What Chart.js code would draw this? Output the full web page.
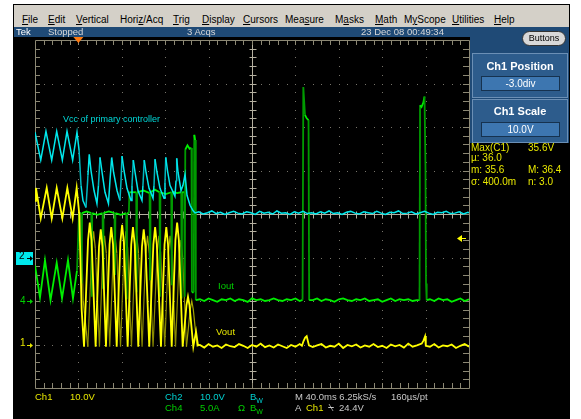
<!DOCTYPE html>
<html>
<head>
<meta charset="utf-8">
<script src="https://cdn.jsdelivr.net/npm/chart.js@4.4.1/dist/chart.umd.min.js"></script>
<style>
  body { margin: 0; width: 581px; height: 419px; background: #fff; position: relative; overflow: hidden; font-family: 'Liberation Sans', Arial, sans-serif; }
  .abs { position: absolute; white-space: nowrap; z-index: 2; }
  #frame { position: absolute; left: 13px; top: 4px; width: 557px; height: 415px; background: #000; }
  #menu { left: 14px; top: 5px; width: 555px; height: 22px; background: #d4d0c8; z-index: 1; }
  #menu span { position: absolute; top: 9px; font-size: 10px; line-height: 12px; color: #000; }
  #status { left: 14px; top: 27px; width: 555px; height: 10px; background: #1f4a76; z-index: 1; }
  #side { left: 470px; top: 27px; width: 99px; height: 116px; background: #1f4a76; z-index: 1; }
  .st { font-size: 9.5px; line-height: 11px; color: #d8d8d8; top: 26px; }
  #buttons { left: 522px; top: 31px; width: 42px; height: 13px; border-radius: 8px; background: #d8d8d8; border: 1px solid #333; font-size: 9px; line-height: 13px; text-align: center; color: #000; }
  .panel { left: 472px; width: 94px; background: #2d5c8c; border: 1px solid #6b8fb5; }
  .ptitle { left: 472px; width: 96px; text-align: center; font-size: 11px; font-weight: bold; color: #fff; line-height: 13px; }
  .pval { left: 481px; width: 77px; height: 13px; background: #3d76b0; border: 1px solid #16324f; font-size: 10px; line-height: 13px; text-align: center; color: #fff; }
  .meas { font-size: 10px; line-height: 12px; color: #e8e800; }
  .rd { font-size: 9.5px; line-height: 11px; }
  canvas { position: absolute; left: 0; top: 0; z-index: 1; }
</style>
</head>
<body>
<div id="frame"></div>
<div id="menu" class="abs">
  <span style="left:8px"><u>F</u>ile</span>
  <span style="left:34px"><u>E</u>dit</span>
  <span style="left:62px"><u>V</u>ertical</span>
  <span style="left:106px">Hori<u>z</u>/Acq</span>
  <span style="left:159px"><u>T</u>rig</span>
  <span style="left:188px"><u>D</u>isplay</span>
  <span style="left:229px"><u>C</u>ursors</span>
  <span style="left:271px">Mea<u>s</u>ure</span>
  <span style="left:321px">M<u>a</u>sks</span>
  <span style="left:361px"><u>M</u>ath</span>
  <span style="left:390px">M<u>y</u>Scope</span>
  <span style="left:438px"><u>U</u>tilities</span>
  <span style="left:480px"><u>H</u>elp</span>
</div>
<div id="status" class="abs"></div>
<div id="side" class="abs"></div>
<div class="abs st" style="left:16px;color:#fff">Tek</div>
<div class="abs st" style="left:48px">Stopped</div>
<div class="abs st" style="left:187px">3 Acqs</div>
<div class="abs st" style="left:361px">23 Dec 08 00:49:34</div>
<div id="buttons" class="abs">Buttons</div>

<div class="abs panel" style="top:53px;height:43px"></div>
<div class="abs ptitle" style="top:60px">Ch1 Position</div>
<div class="abs pval" style="top:76px">-3.0div</div>
<div class="abs panel" style="top:99px;height:42px"></div>
<div class="abs ptitle" style="top:105px">Ch1 Scale</div>
<div class="abs pval" style="top:122px">10.0V</div>

<div class="abs meas" style="left:471px;top:142px">Max(C1)</div>
<div class="abs meas" style="left:528px;top:142px">35.6V</div>
<div class="abs meas" style="left:471px;top:152px">µ: 36.0</div>
<div class="abs meas" style="left:471px;top:164px">m: 35.6</div>
<div class="abs meas" style="left:528px;top:164px">M: 36.4</div>
<div class="abs meas" style="left:471px;top:176px">σ: 400.0m</div>
<div class="abs meas" style="left:528px;top:176px">n: 3.0</div>

<div class="abs" style="left:63px;top:114px;font-size:9px;line-height:11px;color:#00d8d8">Vcc of primary controller</div>
<div class="abs" style="left:218px;top:280px;font-size:9.5px;line-height:11px;color:#00d000">Iout</div>
<div class="abs" style="left:216px;top:326px;font-size:9.5px;line-height:11px;color:#e6e600">Vout</div>

<div class="abs" style="left:19px;top:250px;font-size:10px;line-height:12px;color:#000">2</div>
<div class="abs" style="left:20px;top:295px;font-size:10px;line-height:12px;color:#00d000">4</div>
<div class="abs" style="left:20px;top:337px;font-size:10px;line-height:12px;color:#e6e600">1</div>

<div class="abs rd" style="left:35px;top:391px;color:#e6e600">Ch1</div>
<div class="abs rd" style="left:70px;top:391px;color:#e6e600">10.0V</div>
<div class="abs rd" style="left:165px;top:391px;color:#00d0d0">Ch2</div>
<div class="abs rd" style="left:200px;top:391px;color:#00d0d0">10.0V</div>
<div class="abs rd" style="left:250px;top:391px;color:#00d0d0">B<sub style="font-size:7px">W</sub></div>
<div class="abs rd" style="left:295px;top:391px;color:#c8c8c8">M 40.0ms 6.25kS/s</div>
<div class="abs rd" style="left:391px;top:391px;color:#c8c8c8">160µs/pt</div>
<div class="abs rd" style="left:165px;top:402px;color:#00d000">Ch4</div>
<div class="abs rd" style="left:200px;top:402px;color:#00d000">5.0A</div>
<div class="abs rd" style="left:238px;top:402px;color:#00d000">Ω</div>
<div class="abs rd" style="left:250px;top:402px;color:#00d000">B<sub style="font-size:7px">W</sub></div>
<div class="abs rd" style="left:295px;top:402px;color:#c8c8c8">A</div>
<div class="abs rd" style="left:306px;top:402px;color:#e6e600">Ch1</div>
<div class="abs rd" style="left:328px;top:402px;color:#c8c8c8">⍀</div>
<div class="abs rd" style="left:339px;top:402px;color:#c8c8c8">24.4V</div>

<canvas id="scope" width="581" height="419"></canvas>

<script>
// Horizontal: 40 ms/div, trigger 1 div from the left
const timeDivs = [-40, 0, 40, 80, 120, 160, 200, 240, 280, 320, 360];
const levelDivs = [-4, -3, -2, -1, 0, 1, 2, 3, 4];

// Channel settings (scale per div, position in div)
const ch1Scale = 10, ch1Pos = -3;   // Vout, volts
const ch2Scale = 10, ch2Pos = -1;   // Vcc, volts
const ch4Scale = 5,  ch4Pos = -2;   // Iout, amps
const trigLevel = 24.4;

// Ch2 - Vcc of primary controller (V)
const ch2Time = [-40, -34.7, -29.9, -24.6, -20, -14.8, -10.5, -5.3, -1.3, 0.6,
  2.4, 4.2, 7.0, 8.8, 10.0, 11.6, 14.4, 17.1, 18.5, 19.9,
  21.8, 24.5, 27.7, 29.1, 30.7, 32.4, 35.6, 38.3, 39.3, 40.2,
  42.0, 44.8, 48.5, 49.4, 50.6, 52.2, 54.9, 58.6, 59.5, 60.7,
  62.3, 65.1, 68.8, 69.7, 70.6, 72.4, 75.2, 78.9, 79.8, 80.5,
  82.1, 84.4, 89.0, 90.0, 90.6, 91.8, 94.6, 96.4, 98.3, 100.1,
  102.9, 105.6, 107.5,
  111, 115, 119, 123, 127, 131, 135, 139, 143, 147,
  151, 155, 159, 163, 167, 171, 175, 179, 183, 187,
  191, 195, 199, 203, 207, 211, 215, 219, 223, 227,
  231, 235, 239, 243, 247, 251, 255, 259, 263, 267,
  271, 275, 279, 283, 287, 291, 295, 299, 303, 307,
  311, 315, 319, 323, 327, 331, 335, 339, 343, 347,
  351, 355, 359, 360];
const ch2Volts = [28.8, 22.4, 29.0, 22.4, 29.0, 22.4, 29.0, 22.4, 28.8, 24.7,
  16.6, 13.1, 11.5, 18.9, 23.7, 20.0, 15.4, 12.4, 16.6, 23.0,
  19.6, 15.0, 12.4, 17.7, 23.0, 19.6, 15.4, 13.1, 17.7, 23.3,
  20.0, 15.9, 13.1, 16.6, 22.4, 19.6, 15.4, 13.1, 16.6, 22.4,
  19.6, 15.9, 13.6, 16.6, 22.6, 19.6, 15.9, 13.6, 17.3, 23.0,
  20.0, 16.6, 14.1, 17.7, 22.8, 19.6, 15.4, 16.6, 19.1, 14.3,
  12.0, 10.8, 10.25,
  10.5, 10.0, 10.3, 10.7, 10.1, 10.4, 9.9, 10.3, 10.6, 10.2,
  10.0, 10.5, 10.3, 9.9, 10.6, 10.2, 10.4, 10.0, 10.7, 10.2,
  10.3, 9.9, 10.5, 10.2, 10.6, 10.1, 10.3, 10.0, 10.5, 10.2,
  10.7, 10.1, 10.3, 9.9, 10.4, 10.6, 10.2, 10.0, 10.5, 10.3,
  10.1, 10.6, 10.2, 9.9, 10.4, 10.3, 10.7, 10.1, 10.2, 10.5,
  10.0, 10.3, 10.6, 10.2, 9.9, 10.4, 10.3, 10.6, 10.1, 10.2,
  10.5, 10.0, 10.4, 10.3];

// Ch1 - Vout (V)
const ch1Time = [-40, -39.1, -34.7, -29.2, -24.6, -20, -14.8, -10.2, -5.3, -1.6,
  0.8, 3.0, 5.2,
  8.9, 10.5, 12.1, 15.9, 19.0, 20.6, 22.2, 25.4,
  28.7, 30.3, 31.9, 35.3, 38.7, 40.3, 41.9, 45.4,
  48.7, 50.3, 51.9, 55.2, 58.6, 60.2, 61.8, 65.3,
  69.1, 70.7, 72.3, 76.1, 79.4, 81.0, 82.6, 86.0,
  89.4, 91.0, 92.6, 96.1, 99.6, 101.0, 102.4, 105.9,
  108.4, 110.2,
  112, 116, 120, 124, 128, 132, 136, 140, 144, 148, 152, 156,
  160, 164, 168, 172, 176, 180, 184, 188, 192, 196, 200, 204,
  206.0, 207.5, 209.0, 210.4, 212.5,
  216, 220, 224, 228, 232, 236, 240, 244, 248, 252, 256, 260, 264,
  268, 272, 276, 280, 284, 288, 292, 296, 300, 304, 308, 312,
  316.4, 318.0, 319.5, 320.2,
  324, 328, 332, 336, 340, 344, 348, 352, 356, 360];
const ch1Volts = [33, 36, 29, 36, 29, 36, 29, 36, 29, 36,
  30, 8, -0.5,
  24, 28, 24, -0.5, 22.5, 26.5, 22.5, -0.5,
  23, 27, 23, -0.5, 23.5, 27.5, 23.5, -0.5,
  23, 27, 23, -0.5, 22.5, 26.5, 22.5, -0.5,
  23, 27, 23, -0.5, 23, 27, 23, -0.5,
  24, 28, 24, -0.5, 9, 11, 9, -0.5,
  3, -0.2,
  -0.1, -0.7, 0.1, -0.5, -0.2, -0.8, 0.0, -0.4, -0.6, 0.1, -0.3, -0.8,
  -0.1, -0.5, 0.2, -0.6, -0.2, -0.7, 0.0, -0.4, -0.8, -0.1, -0.5, 0.1,
  -0.3, 0.8, 1.6, 1.9, -0.2,
  -0.6, -0.2, 0.1, -0.7, -0.3, -0.5, 0.2, -0.8, -0.1, -0.4, 0.0, -0.7, -0.2,
  -0.5, 0.1, -0.6, -0.3, -0.8, 0.0, -0.4, -0.1, -0.7, 0.2, -0.5, -0.2,
  0.2, 0.9, 1.9, -0.3,
  -0.5, 0.1, -0.7, -0.2, -0.4, 0.0, -0.8, -0.3, 0.1, -0.5];

// Ch1 - earlier acquisitions (dim persistence)
const ch1GhostTime = [2.0, 4.5, 8.7, 12.4, 14.0, 15.6, 19.4, 22.5, 24.1, 25.7,
  28.9, 32.2, 33.8, 35.4, 38.8, 42.2, 43.8, 45.4, 48.9, 52.2,
  53.8, 55.4, 58.7, 62.1, 63.7, 65.3, 68.8, 72.6, 74.2, 75.8,
  79.6, 82.9, 84.5, 86.1, 89.5, 92.9, 94.5, 96.1, 99.6, 103.1,
  104.5, 105.9, 109.4];
const ch1GhostVolts = [30, 10, -0.5, 22, 26, 22, -0.5, 21, 25, 21,
  -0.5, 21, 25, 21, -0.5, 22, 26, 22, -0.5, 21,
  25, 21, -0.5, 21, 25, 21, -0.5, 21, 25, 21,
  -0.5, 21, 25, 21, -0.5, 20, 24, 20, -0.5, 8,
  10, 8, -0.5];

// Ch4 - Iout (A)
const ch4Time = [-40, -35.4, -30.8, -25.7, -20, -15.1, -9.6, -5.0, -1.3, 0.6,
  2.6, 3.0, 3.4, 7.5, 11.9, 12.3, 12.7, 17.5, 22.3, 22.7,
  23.1, 28, 33.3, 33.7, 34.1, 39, 44.1, 44.5, 44.9, 46.5,
  47.0, 53.3, 53.7, 54.1, 60, 65.6, 66.0, 66.4, 70.5, 74.8,
  75.2, 75.6, 80.5, 85.6, 86.0, 86.4, 90.8, 94.8, 95.2, 95.6,
  97.6, 98.0, 98.5, 100.5, 102.5, 104.2, 104.6, 106.3, 106.8, 107.6,
  108.2,
  112, 116, 120, 124, 128, 132, 136, 140, 144, 148, 152, 156,
  160, 164, 168, 172, 176, 180, 184, 188, 192, 196, 200, 204,
  206.6, 207.3, 208.8, 210.4, 212.1, 212.7,
  216, 220, 224, 228, 232, 236, 240, 244, 248, 252, 256, 260, 264,
  268, 272, 276, 280, 284, 288, 292, 296, 300, 304, 308, 312,
  314.4, 314.9, 316.2, 317.9, 319.0, 319.9, 320.4, 321.0,
  324, 328, 332, 336, 340, 344, 348, 352, 356, 360];
const ch4Amps = [4.1, 0.4, 4.7, 0.1, 4.4, 0.3, 4.7, 0.3, 3.5, 10.1,
  10.1, 2.0, 10.1, 10.3, 10.1, 0.5, 10.1, 9.9, 10.1, 1.5,
  10.1, 10.3, 10.1, 3.0, 10.1, 9.9, 10.1, 0.2, 10.1, 10.1,
  12.5, 12.5, 1.0, 12.5, 12.7, 12.4, 2.5, 12.5, 12.8, 12.5,
  0.5, 12.5, 12.3, 12.5, 1.8, 12.6, 12.4, 12.5, 0.3, 12.5,
  12.5, 0.5, 17.4, 17.9, 17.5, 17.6, 1.0, 1.0, 19.1, 18.5,
  0.1,
  0.2, 0.0, 0.3, 0.1, -0.1, 0.2, 0.1, 0.3, 0.0, 0.2, 0.1, -0.1,
  0.3, 0.1, 0.2, 0.0, 0.1, 0.3, 0.1, 0.0, 0.2, 0.1, 0.3, 0.0,
  0.13, 24.6, 21.4, 21.0, 20.8, 0.1,
  0.1, 0.3, 0.0, 0.2, 0.1, -0.1, 0.2, 0.3, 0.1, 0.0, 0.2, 0.1, 0.3,
  0.0, 0.1, 0.2, -0.1, 0.1, 0.3, 0.0, 0.2, 0.1, 0.2, 0.0, 0.1,
  0.1, 22.5, 22.3, 22.8, 23.5, 15.3, 2.0, 0.1,
  0.2, 0.0, 0.3, 0.1, 0.2, -0.1, 0.1, 0.3, 0.0, 0.2];

// Colours
const colors = {
  ch1: { bright: '#ffff00', dim: '#ffff00' },
  ch1Ghost: { bright: '#a4a400', dim: '#8a8a00' },
  ch2: { bright: '#00e8ec', dim: '#00b8c0' },
  ch4: { bright: '#00ee00', dim: '#009a00' },
  grid: '#8c8874',
  gridDot: '#77746a',
  center: '#b4b0a0'
};

function toDivs(times, values, scale, pos) {
  return times.map((t, i) => ({ x: t, y: values[i] / scale + pos }));
}

// near-vertical segments (fast edges) show dimmer, like the scope's intensity grading
function edgeColor(c) {
  return function(ctx) {
    const dx = Math.abs(ctx.p1.x - ctx.p0.x);
    const dy = Math.abs(ctx.p1.y - ctx.p0.y);
    return dy > 10 * dx + 8 ? c.dim : c.bright;
  };
}

// Tek style graticule
const graticule = {
  id: 'graticule',
  beforeDatasetsDraw(chart) {
    const { ctx, chartArea: a, scales: { x, y } } = chart;
    const minorT = (timeDivs[1] - timeDivs[0]) / 5;
    const centerT = timeDivs[5];
    ctx.save();

    // dotted division lines
    ctx.fillStyle = colors.gridDot;
    timeDivs.slice(1, -1).forEach(t => {
      if (t === centerT) return;
      const px = Math.round(x.getPixelForValue(t));
      for (let k = 0; k <= 40; k++) {
        ctx.fillRect(px, Math.round(y.getPixelForValue(-4 + k * 0.2)), 1, 1);
      }
    });
    levelDivs.slice(1, -1).forEach(v => {
      if (v === 0) return;
      const py = Math.round(y.getPixelForValue(v));
      for (let k = 0; k <= 50; k++) {
        ctx.fillRect(Math.round(x.getPixelForValue(timeDivs[0] + k * minorT)), py, 1, 1);
      }
    });

    // centre cross with minor ticks
    ctx.strokeStyle = colors.center;
    ctx.lineWidth = 1;
    const cx = Math.round(x.getPixelForValue(centerT)) + 0.5;
    const cy = Math.round(y.getPixelForValue(0)) + 0.5;
    ctx.beginPath();
    ctx.moveTo(cx, a.top); ctx.lineTo(cx, a.bottom);
    ctx.moveTo(a.left, cy); ctx.lineTo(a.right, cy);
    for (let k = 0; k <= 40; k++) {
      const py = Math.round(y.getPixelForValue(-4 + k * 0.2)) + 0.5;
      ctx.moveTo(cx - 3, py); ctx.lineTo(cx + 4, py);
    }
    for (let k = 0; k <= 50; k++) {
      const px = Math.round(x.getPixelForValue(timeDivs[0] + k * minorT)) + 0.5;
      ctx.moveTo(px, cy - 3); ctx.lineTo(px, cy + 4);
    }
    ctx.stroke();

    // border with inward ticks
    ctx.strokeStyle = colors.grid;
    ctx.beginPath();
    ctx.rect(Math.round(a.left) + 0.5, Math.round(a.top) + 0.5, Math.round(a.right - a.left), Math.round(a.bottom - a.top));
    for (let k = 1; k < 50; k++) {
      const px = Math.round(x.getPixelForValue(timeDivs[0] + k * minorT)) + 0.5;
      ctx.moveTo(px, a.top); ctx.lineTo(px, a.top + 5);
      ctx.moveTo(px, a.bottom); ctx.lineTo(px, a.bottom - 5);
    }
    for (let k = 1; k < 40; k++) {
      const py = Math.round(y.getPixelForValue(-4 + k * 0.2)) + 0.5;
      ctx.moveTo(a.left, py); ctx.lineTo(a.left + 5, py);
      ctx.moveTo(a.right, py); ctx.lineTo(a.right - 6, py);
    }
    ctx.stroke();
    ctx.restore();
  },
  afterDraw(chart) {
    const { ctx, chartArea: a, scales: { x, y } } = chart;
    ctx.save();
    // trigger position marker
    const tx = x.getPixelForValue(0);
    ctx.fillStyle = '#ff7a10';
    ctx.beginPath();
    ctx.moveTo(tx - 5, a.top - 3); ctx.lineTo(tx + 5, a.top - 3); ctx.lineTo(tx, a.top + 3);
    ctx.closePath(); ctx.fill();

    // trigger level marker (right edge)
    const ty = Math.round(y.getPixelForValue(trigLevel / ch1Scale + ch1Pos)) + 0.5;
    ctx.fillStyle = colors.ch1.bright;
    ctx.strokeStyle = colors.ch1.bright;
    ctx.beginPath();
    ctx.moveTo(a.right - 12, ty); ctx.lineTo(a.right - 7, ty - 3.5); ctx.lineTo(a.right - 7, ty + 3.5);
    ctx.closePath(); ctx.fill();
    ctx.beginPath(); ctx.moveTo(a.right - 8, ty); ctx.lineTo(a.right - 3, ty); ctx.stroke();

    // channel ground markers
    const markers = [
      { pos: ch2Pos, c: colors.ch2.bright, box: true },
      { pos: ch4Pos, c: '#00d000', box: false },
      { pos: ch1Pos, c: '#e6e600', box: false }
    ];
    markers.forEach(m => {
      const my = Math.round(y.getPixelForValue(m.pos)) + 0.5;
      if (m.box) {
        ctx.fillStyle = m.c;
        ctx.fillRect(16, my - 6.5, 17, 13);
      }
      const ac = m.box ? '#000' : m.c;
      ctx.strokeStyle = ac; ctx.fillStyle = ac;
      ctx.beginPath(); ctx.moveTo(27, my); ctx.lineTo(31, my); ctx.stroke();
      ctx.beginPath(); ctx.moveTo(33, my); ctx.lineTo(30, my - 2.5); ctx.lineTo(30, my + 2.5); ctx.closePath(); ctx.fill();
    });
    ctx.restore();
  }
};

function trace(label, data, c, width) {
  return {
    label: label,
    data: data,
    borderColor: c.bright,
    borderWidth: width,
    pointRadius: 0,
    tension: 0,
    fill: false,
    segment: { borderColor: edgeColor(c) }
  };
}

new Chart(document.getElementById('scope'), {
  type: 'line',
  data: {
    datasets: [
      trace('Ch2 Vcc', toDivs(ch2Time, ch2Volts, ch2Scale, ch2Pos), colors.ch2, 1.5),
      trace('Ch1 Vout', toDivs(ch1Time, ch1Volts, ch1Scale, ch1Pos), colors.ch1, 1.8),
      trace('Ch4 Iout', toDivs(ch4Time, ch4Amps, ch4Scale, ch4Pos), colors.ch4, 1.8),
      trace('Ch1 persist', toDivs(ch1GhostTime, ch1GhostVolts, ch1Scale, ch1Pos), colors.ch1Ghost, 1.2)
    ]
  },
  options: {
    responsive: false,
    devicePixelRatio: 1,
    animation: false,
    layout: { padding: { left: 35, top: 40, right: 112, bottom: 31 } },
    scales: {
      x: { type: 'linear', min: timeDivs[0], max: timeDivs[timeDivs.length - 1], display: false },
      y: { type: 'linear', min: levelDivs[0], max: levelDivs[levelDivs.length - 1], display: false }
    },
    plugins: { legend: { display: false }, tooltip: { enabled: false } }
  },
  plugins: [graticule]
});
</script>
</body>
</html>
